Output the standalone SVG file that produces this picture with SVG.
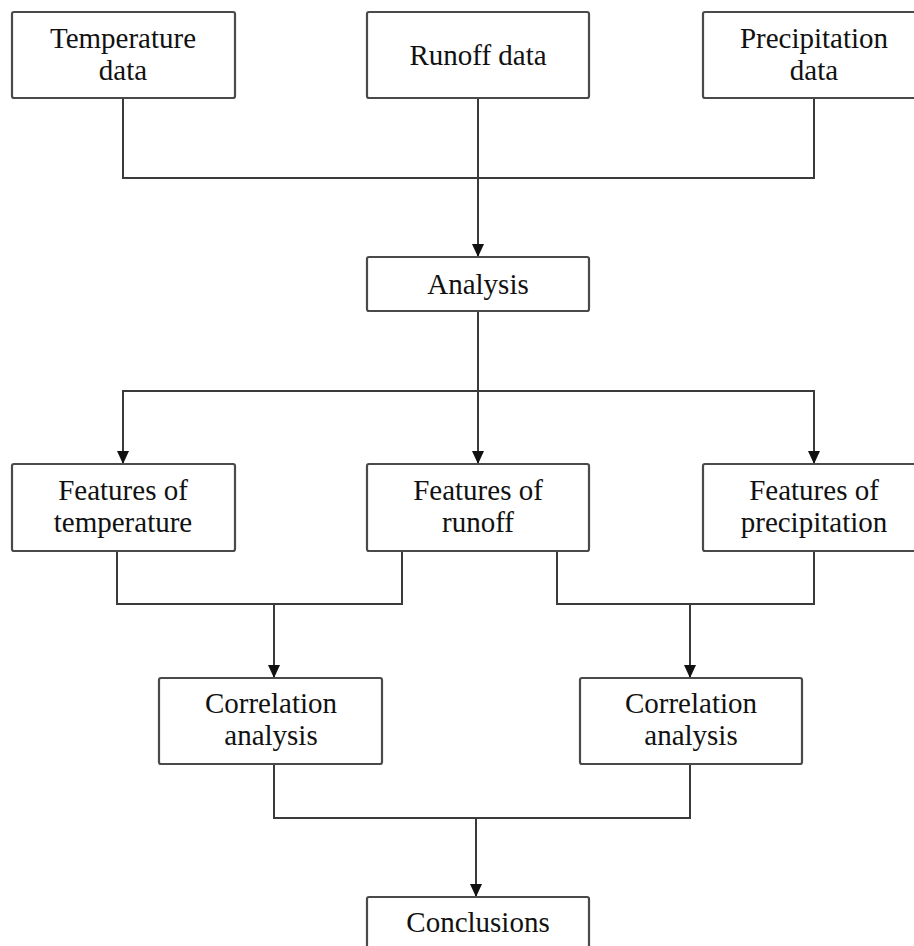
<svg xmlns="http://www.w3.org/2000/svg" width="914" height="946" viewBox="0 0 914 946">
<style>
.box{fill:#fff;stroke:#4a4a4a;stroke-width:2.2}
.ln{fill:none;stroke:#3a3a3a;stroke-width:2}
.t{font-family:"Liberation Serif","Times New Roman",serif;font-size:29px;fill:#111;text-anchor:middle}
</style>
<defs>
<marker id="ah" markerWidth="13" markerHeight="12" refX="13" refY="6" orient="auto" markerUnits="userSpaceOnUse">
<path d="M0,0 L13,6 L0,12 Z" fill="#111"/>
</marker>
</defs>
<rect width="914" height="946" fill="#fff"/>
<g id="connectors">
<polyline class="ln" points="123,98 123,178 814,178 814,98"/>
<line class="ln" x1="478" y1="98" x2="478" y2="257" marker-end="url(#ah)"/>
<line class="ln" x1="478" y1="311" x2="478" y2="464" marker-end="url(#ah)"/>
<line class="ln" x1="123" y1="391" x2="814" y2="391"/>
<line class="ln" x1="123" y1="390" x2="123" y2="464" marker-end="url(#ah)"/>
<line class="ln" x1="814" y1="390" x2="814" y2="464" marker-end="url(#ah)"/>
<polyline class="ln" points="117,551 117,604 402,604 402,551"/>
<line class="ln" x1="274" y1="604" x2="274" y2="678" marker-end="url(#ah)"/>
<polyline class="ln" points="557,551 557,604 814,604 814,551"/>
<line class="ln" x1="690" y1="604" x2="690" y2="678" marker-end="url(#ah)"/>
<polyline class="ln" points="274,764 274,818 690,818 690,764"/>
<line class="ln" x1="476" y1="818" x2="476" y2="897" marker-end="url(#ah)"/>
</g>
<g id="temperature-data">
<rect class="box" x="12" y="12" width="223" height="86" rx="2"/>
<text class="t" x="123" y="48">Temperature</text>
<text class="t" x="123" y="80">data</text>
</g>
<g id="runoff-data">
<rect class="box" x="367" y="12" width="222" height="86" rx="2"/>
<text class="t" x="478" y="65">Runoff data</text>
</g>
<g id="precipitation-data">
<rect class="box" x="703" y="12" width="222" height="86" rx="2"/>
<text class="t" x="814" y="48">Precipitation</text>
<text class="t" x="814" y="80">data</text>
</g>
<g id="analysis">
<rect class="box" x="367" y="257" width="222" height="54" rx="2"/>
<text class="t" x="478" y="294">Analysis</text>
</g>
<g id="features-temperature">
<rect class="box" x="12" y="464" width="223" height="87" rx="2"/>
<text class="t" x="123" y="500">Features of</text>
<text class="t" x="123" y="532">temperature</text>
</g>
<g id="features-runoff">
<rect class="box" x="367" y="464" width="222" height="87" rx="2"/>
<text class="t" x="478" y="500">Features of</text>
<text class="t" x="478" y="532">runoff</text>
</g>
<g id="features-precipitation">
<rect class="box" x="703" y="464" width="222" height="87" rx="2"/>
<text class="t" x="814" y="500">Features of</text>
<text class="t" x="814" y="532">precipitation</text>
</g>
<g id="correlation-left">
<rect class="box" x="159" y="678" width="223" height="86" rx="2"/>
<text class="t" x="271" y="713">Correlation</text>
<text class="t" x="271" y="745">analysis</text>
</g>
<g id="correlation-right">
<rect class="box" x="580" y="678" width="222" height="86" rx="2"/>
<text class="t" x="691" y="713">Correlation</text>
<text class="t" x="691" y="745">analysis</text>
</g>
<g id="conclusions">
<rect class="box" x="367" y="897" width="222" height="80" rx="2"/>
<text class="t" x="478" y="932">Conclusions</text>
</g>
</svg>
